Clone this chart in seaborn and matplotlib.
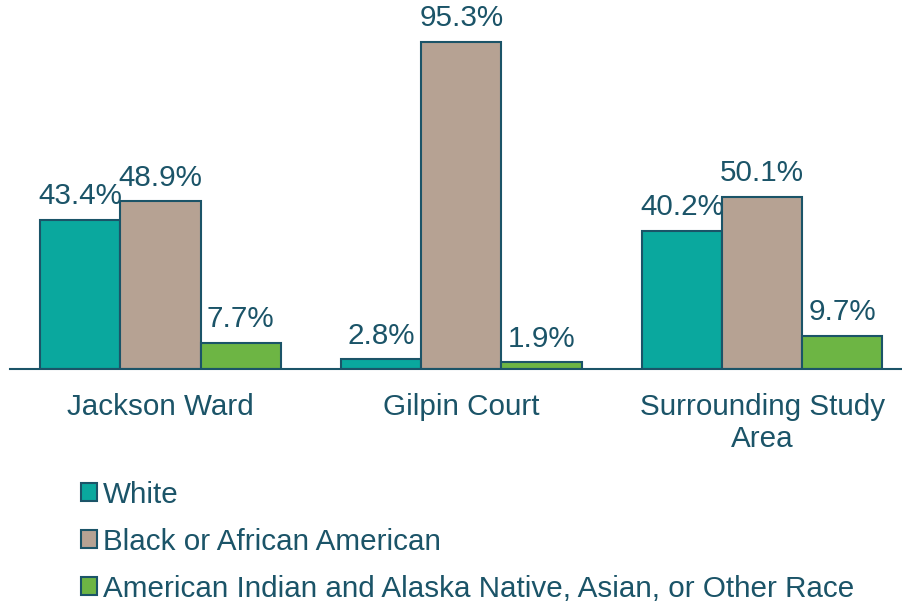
import pandas as pd
import matplotlib.pyplot as plt
import seaborn as sns

# Datos
areas = ['Jackson Ward', 'Gilpin Court', 'Surrounding Study\nArea']
grupos = ['White', 'Black or African American',
          'American Indian and Alaska Native, Asian, or Other Race']
white = [43.4, 2.8, 40.2]
black = [48.9, 95.3, 50.1]
other = [7.7, 1.9, 9.7]

colores = ['#0AA89E', '#B6A293', '#6DB544']
texto = '#1B5468'

df = pd.DataFrame({
    'area': areas * 3,
    'grupo': [grupos[0]] * 3 + [grupos[1]] * 3 + [grupos[2]] * 3,
    'valor': white + black + other,
})

sns.set_style('white')
plt.rcParams['font.family'] = ['Liberation Sans', 'DejaVu Sans']

fig = plt.figure(figsize=(9.02, 6.04), dpi=100)
ax = fig.add_axes([10 / 902, 235 / 604, 892 / 902, 369 / 604])

sns.barplot(data=df, x='area', y='valor', hue='grupo', palette=colores,
            saturation=1, edgecolor=texto, linewidth=1.5, width=0.8, ax=ax,
            legend=False)

for cont in ax.containers:
    ax.bar_label(cont, labels=[f'{v:.1f}%' for v in cont.datavalues],
                 padding=7, fontsize=21.3, color=texto)

ax.set_xlim(-0.5, 2.465)
ax.set_ylim(0, 107.6)
ax.set_xlabel('')
ax.set_ylabel('')
ax.set_yticks([])
ax.tick_params(axis='x', length=0, pad=17, labelsize=21.3, labelcolor=texto)
for s in ['top', 'left', 'right']:
    ax.spines[s].set_visible(False)
ax.spines['bottom'].set_color(texto)
ax.spines['bottom'].set_linewidth(1.5)

# Leyenda
handles = [plt.Rectangle((0, 0), 1, 1, facecolor=c, edgecolor=texto, linewidth=1.5)
           for c in colores]
fig.legend(handles, grupos, loc='upper left', bbox_to_anchor=(69 / 902, 1 - 469 / 604),
           frameon=False, fontsize=21.3, labelcolor=texto, handlelength=0.55,
           handleheight=0.55, handletextpad=0.2, labelspacing=0.64, borderaxespad=0)

fig.savefig('out.png', dpi=100)
